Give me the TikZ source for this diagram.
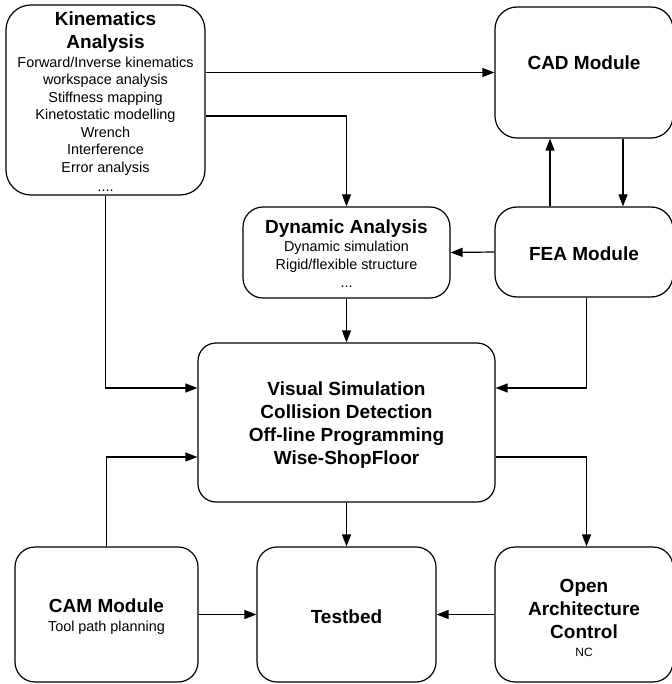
\documentclass[tikz,border=0pt]{standalone}
\usepackage{fontspec}
\setmainfont{Liberation Sans}
\usetikzlibrary{arrows.meta}
\newcommand\titlef{\fontsize{19}{23}\selectfont\bfseries}
\newcommand\bodyf{\fontsize{14.4}{17.5}\selectfont\mdseries}
\newcommand\smallf{\fontsize{12}{18}\selectfont\mdseries}
\newcommand\nolsk{\lineskiplimit=-100pt\lineskip=0pt}
\newcommand\tp[1]{\rule{0pt}{#1}}
\begin{document}
\begin{tikzpicture}[x=1pt,y=-1pt,
  box/.style={draw, line width=1.2pt, rounded corners=22pt, align=center, inner sep=0pt},
  arr/.style={line width=1.2pt, -{Triangle[length=12pt,width=9pt]}}]
\useasboundingbox (0,0) rectangle (671,684);
\node[box, rounded corners=25pt, minimum width=199pt, minimum height=190pt,
  font=\fontsize{14.4}{17.5}\selectfont\nolsk] (kin) at (105.5,100)
  {\titlef\tp{18pt}Kinematics\\[5.5pt] \titlef Analysis\\[1pt]
   \bodyf Forward/Inverse kinematics\\ \bodyf workspace analysis\\ \bodyf Stiffness mapping\\
   \bodyf Kinetostatic modelling\\ \bodyf Wrench\\ \bodyf Interference\\ \bodyf Error analysis\\[2pt] \bodyf ....};
\node[box, minimum width=178pt, minimum height=131pt, text depth=20pt,
  font=\titlef\nolsk] (cad) at (584,72.5) {CAD Module};
\node[box, minimum width=178pt, minimum height=90pt,
  font=\titlef\nolsk] (fea) at (584,252) {\tp{18pt}FEA Module};
\node[box, rounded corners=20pt, minimum width=207pt, minimum height=91pt,
  font=\fontsize{14.4}{18}\selectfont\nolsk] (dyn) at (346.5,252.5)
  {\titlef\tp{16pt}Dynamic Analysis\\ \bodyf Dynamic simulation\\ \bodyf Rigid/flexible structure\\ \bodyf ...};
\node[box, rounded corners=18pt, minimum width=297pt, minimum height=159pt,
  font=\titlef\nolsk] (vis) at (346.5,422.5)
  {\tp{18pt}Visual Simulation\\ Collision Detection\\ Off-line Programming\\ Wise-ShopFloor};
\node[box, rounded corners=20pt, minimum width=183pt, minimum height=135pt,
  font=\fontsize{14.4}{19}\selectfont\nolsk] (cam) at (106.5,614.5)
  {\titlef\tp{18pt}CAM Module\\ \bodyf Tool path planning};
\node[box, rounded corners=20pt, minimum width=179pt, minimum height=135pt,
  font=\titlef\nolsk] (test) at (346.5,614.5) {\tp{18pt}Testbed};
\node[box, rounded corners=20pt, minimum width=178pt, minimum height=135pt,
  font=\titlef\nolsk] (oac) at (584,614.5)
  {\tp{19.6pt}Open\\ Architecture\\ Control\\[-5pt] \smallf NC};
\draw[arr] (kin.east |- cad.west) -- (cad.west);
\draw[arr] ([yshift=-16pt]kin.east) -| (dyn.north);
\draw[arr] (kin.south) |- ([yshift=34.5pt]vis.west);
\draw[arr] (cam.north) |- ([yshift=-34.5pt]vis.west);
\draw[arr] ([xshift=2.5pt]fea.south) |- ([yshift=34.5pt]vis.east);
\draw[arr] ([yshift=-34.5pt]vis.east) -| ([xshift=2.5pt]oac.north);
\draw[arr] (fea.west) -- (dyn.east);
\draw[arr] ([xshift=-34pt]fea.north) -- ([xshift=-34pt]cad.south);
\draw[arr] ([xshift=39pt]cad.south) -- ([xshift=39pt]fea.north);
\draw[arr] (dyn.south) -- (vis.north);
\draw[arr] (vis.south) -- (test.north);
\draw[arr] (cam.east) -- (test.west);
\draw[arr] (oac.west) -- (test.east);
\end{tikzpicture}
\end{document}
